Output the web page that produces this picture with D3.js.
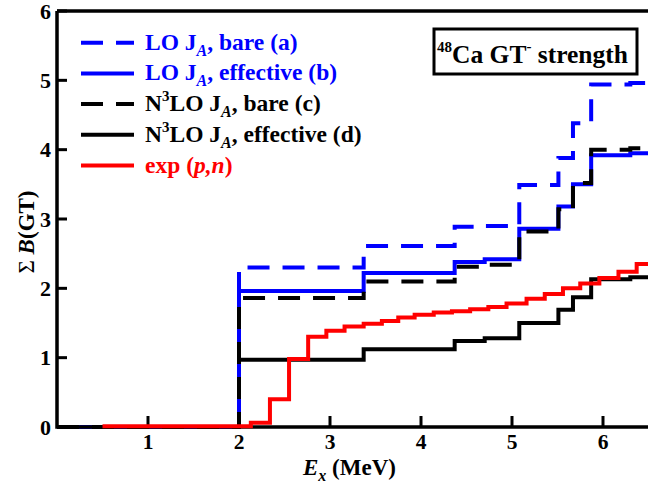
<!DOCTYPE html>
<html>
<head>
<meta charset="utf-8">
<script src="https://cdn.jsdelivr.net/npm/d3@7"></script>
<style>
  body { margin: 0; background: #fff; }
  svg text { font-family: "Liberation Serif", "Times New Roman", Times, serif; font-weight: bold; }
</style>
</head>
<body>
<div id="chart"></div>
<script>
// step edges (MeV) shared by the theory curves
var thEdges = [0, 2.0, 3.37, 4.37, 4.70, 5.08, 5.51, 5.67, 5.87, 6.30];
var loBare = [0, 2.30, 2.61, 2.89, 2.90, 3.49, 3.88, 4.38, 4.94, 4.96];
var loEff = [0, 1.96, 2.22, 2.38, 2.42, 2.86, 3.18, 3.50, 3.92, 3.95];
var n3loBare = [0, 1.86, 2.10, 2.31, 2.34, 2.82, 3.14, 3.52, 4.00, 4.02];
var n3loEff = [0, 0.97, 1.12, 1.24, 1.28, 1.50, 1.69, 1.87, 2.13, 2.16];

// experimental (p,n) running sum
var expEdges = [0.5, 2.13, 2.34, 2.55, 2.76, 2.96, 3.16, 3.37, 3.57, 3.75, 3.93, 4.14,
                4.34, 4.54, 4.74, 4.94, 5.16, 5.36, 5.56, 5.75, 5.96, 6.17, 6.37];
var expVals = [0.01, 0.06, 0.40, 0.98, 1.30, 1.39, 1.45, 1.49, 1.53, 1.58, 1.62, 1.65,
               1.67, 1.70, 1.73, 1.78, 1.85, 1.92, 2.00, 2.07, 2.15, 2.24, 2.35];

var xTicks = [1, 2, 3, 4, 5, 6];
var yTicks = [0, 1, 2, 3, 4, 5, 6];

var width = 648, height = 486;
var x0 = 57, y0 = 427;
var xMax = 6.5;

var x = d3.scaleLinear().domain([0, xMax]).range([x0, x0 + xMax * 91]);
var y = d3.scaleLinear().domain([0, 6]).range([y0, 11]);

var svg = d3.select("#chart").append("svg")
    .attr("width", width)
    .attr("height", height);

function steps(edges, vals) {
  var pts = edges.map(function(e, i) { return [e, vals[i]]; });
  pts.push([xMax, vals[vals.length - 1]]);
  return pts;
}

var line = d3.line()
    .x(function(d) { return x(d[0]); })
    .y(function(d) { return y(d[1]); })
    .curve(d3.curveStepAfter);

var series = [
  {vals: n3loEff, color: "#000", dash: null},
  {vals: loEff, color: "#0000ff", dash: null},
  {vals: loBare, color: "#0000ff", dash: "22,13"},
  {vals: n3loBare, color: "#000", dash: "22,13"}
];

var curves = svg.append("g");
series.forEach(function(s) {
  curves.append("path")
      .attr("d", line(steps(thEdges, s.vals)))
      .attr("fill", "none")
      .attr("stroke", s.color)
      .attr("stroke-width", 4)
      .attr("stroke-dasharray", s.dash);
});

// axes
var ax = svg.append("g").attr("stroke", "#000").attr("stroke-width", 3.5).attr("fill", "none");
ax.append("path").attr("d", "M" + x(0) + "," + y(6) + "V" + y(0) + "H" + width);
ax.append("path").attr("d", "M" + x(0) + "," + y(6) + "H" + width);

svg.append("g").selectAll("line")
    .data(xTicks).enter().append("line")
    .attr("x1", function(d) { return x(d); }).attr("x2", function(d) { return x(d); })
    .attr("y1", y0).attr("y2", y0 - 11)
    .attr("stroke", "#000").attr("stroke-width", 3);

svg.append("g").selectAll("line")
    .data(yTicks).enter().append("line")
    .attr("x1", x0).attr("x2", x0 + 10)
    .attr("y1", function(d) { return y(d); }).attr("y2", function(d) { return y(d); })
    .attr("stroke", "#000").attr("stroke-width", 3);

svg.append("g").selectAll("text")
    .data(xTicks).enter().append("text")
    .attr("x", function(d) { return x(d); })
    .attr("y", y0 + 22)
    .attr("text-anchor", "middle")
    .attr("font-size", 21.5)
    .text(function(d) { return d; });

svg.append("g").selectAll("text")
    .data(yTicks).enter().append("text")
    .attr("x", x0 - 6)
    .attr("y", function(d) { return y(d) + 7.5; })
    .attr("text-anchor", "end")
    .attr("font-size", 22)
    .text(function(d) { return d; });

// experimental curve on top
svg.append("path")
    .attr("d", line(steps(expEdges, expVals)))
    .attr("fill", "none")
    .attr("stroke", "#ff0000")
    .attr("stroke-width", 4);

// axis titles
var xt = svg.append("text").attr("x", 303).attr("y", 475).attr("font-size", 23);
xt.append("tspan").attr("font-style", "italic").text("E");
xt.append("tspan").attr("font-style", "italic").attr("font-size", 16).attr("dy", 6).text("x");
xt.append("tspan").attr("dy", -6).text(" (MeV)");

var yt = svg.append("text")
    .attr("transform", "translate(34,232) rotate(-90)")
    .attr("text-anchor", "middle")
    .attr("font-size", 23);
yt.append("tspan").style("font-weight", "normal").text("\u03A3 ");
yt.append("tspan").attr("font-style", "italic").text("B");
yt.append("tspan").text("(GT)");

// legend
var legend = [
  {color: "#0000ff", dash: "22,13", pre: null, main: "LO J", post: ", bare (a)"},
  {color: "#0000ff", dash: null, pre: null, main: "LO J", post: ", effective (b)"},
  {color: "#000", dash: "22,13", pre: "N", main: "LO J", post: ", bare (c)"},
  {color: "#000", dash: null, pre: "N", main: "LO J", post: ", effective (d)"},
  {color: "#ff0000", dash: null, exp: true}
];

var lg = svg.append("g");
legend.forEach(function(d, i) {
  var ly = 42.7 + i * 30.7;
  lg.append("line")
      .attr("x1", 81).attr("x2", 134)
      .attr("y1", ly).attr("y2", ly)
      .attr("stroke", d.color).attr("stroke-width", 4)
      .attr("stroke-dasharray", d.dash);
  var t = lg.append("text").attr("x", 145).attr("y", ly + 7)
      .attr("font-size", 23.5).attr("fill", d.color);
  if (d.exp) {
    t.append("tspan").text("exp (");
    t.append("tspan").attr("font-style", "italic").text("p,n");
    t.append("tspan").text(")");
    return;
  }
  if (d.pre) {
    t.append("tspan").text(d.pre);
    t.append("tspan").attr("font-size", 15).attr("dy", -10).text("3");
    t.append("tspan").attr("dy", 10).text(d.main);
  } else {
    t.append("tspan").text(d.main);
  }
  t.append("tspan").attr("font-size", 16).attr("font-style", "italic").attr("dy", 6).text("A");
  t.append("tspan").attr("dy", -6).text(d.post);
});

// title box
svg.append("rect")
    .attr("x", 434).attr("y", 29)
    .attr("width", 203).attr("height", 45)
    .attr("fill", "#fff").attr("stroke", "#000").attr("stroke-width", 3);
var tt = svg.append("text").attr("x", 437).attr("y", 63).attr("font-size", 25.5);
tt.append("tspan").attr("font-size", 15).attr("dy", -11).text("48");
tt.append("tspan").attr("dy", 11).text("Ca GT");
tt.append("tspan").attr("font-size", 15).attr("dy", -12).text("-");
tt.append("tspan").attr("dy", 12).text(" strength");
</script>
</body>
</html>
